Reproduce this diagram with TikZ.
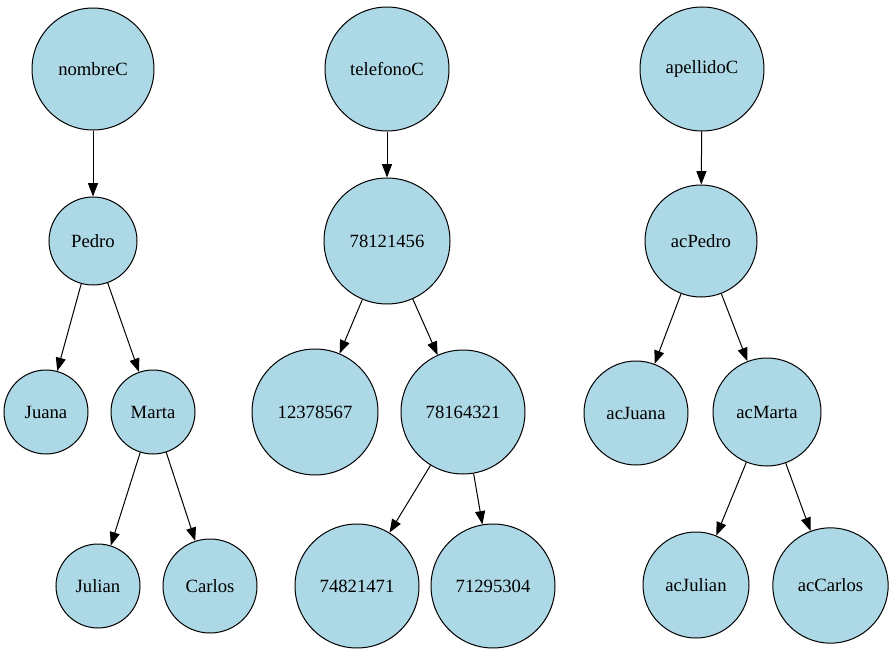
\documentclass[tikz,border=0pt]{standalone}
\usepackage{fontspec}
\setmainfont{Liberation Serif}
\usetikzlibrary{arrows.meta}
\begin{document}
\begin{tikzpicture}[x=0.75pt, y=-0.75pt, >={Triangle[length=10pt,width=7.5pt]}, line width=0.75pt]
      % Styles
      \tikzstyle{nodo} = [circle, draw=black, fill=lightblue, inner sep=0pt, font=\fontsize{14}{16}\selectfont]
      \definecolor{lightblue}{HTML}{ADD8E6}
      \useasboundingbox (0,0) rectangle (894,653);
      % Nodes: nombre
      \node[nodo, minimum size=91.5pt] (nombreC) at (93,69) {nombreC};
      \node[nodo, minimum size=66pt] (pedro) at (93,241) {Pedro};
      \node[nodo, minimum size=63pt] (juana) at (46,412) {Juana};
      \node[nodo, minimum size=63pt] (marta) at (153,412) {Marta};
      \node[nodo, minimum size=63pt] (julian) at (98,586) {Julian};
      \node[nodo, minimum size=70.5pt] (carlos) at (210,586) {Carlos};
      % Nodes: telefono
      \node[nodo, minimum size=93pt] (telefonoC) at (387,69) {telefonoC};
      \node[nodo, minimum size=94.5pt] (t78121456) at (387,241) {78121456};
      \node[nodo, minimum size=94.5pt] (t12378567) at (315,412) {12378567};
      \node[nodo, minimum size=93pt] (t78164321) at (463,412) {78164321};
      \node[nodo, minimum size=93pt] (t74821471) at (357,586) {74821471};
      \node[nodo, minimum size=93pt] (t71295304) at (493,586) {71295304};
      % Nodes: apellido
      \node[nodo, minimum size=93pt] (apellidoC) at (702,69) {apellidoC};
      \node[nodo, minimum size=84pt] (acpedro) at (701,241) {acPedro};
      \node[nodo, minimum size=78pt] (acjuana) at (636,413) {acJuana};
      \node[nodo, minimum size=81pt] (acmarta) at (767,412) {acMarta};
      \node[nodo, minimum size=79.5pt] (acjulian) at (696,585) {acJulian};
      \node[nodo, minimum size=86.5pt] (accarlos) at (830.5,585.5) {acCarlos};

      % Arrows
      \draw[->] (nombreC) -- (pedro);
      \draw[->] (pedro) -- (juana);
      \draw[->] (pedro) -- (marta);
      \draw[->] (marta) -- (julian);
      \draw[->] (marta) -- (carlos);
      \draw[->] (telefonoC) -- (t78121456);
      \draw[->] (t78121456) -- (t12378567);
      \draw[->] (t78121456) -- (t78164321);
      \draw[->] (t78164321) -- (t74821471);
      \draw[->] (t78164321) -- (t71295304);
      \draw[->] (apellidoC) -- (acpedro);
      \draw[->] (acpedro) -- (acjuana);
      \draw[->] (acpedro) -- (acmarta);
      \draw[->] (acmarta) -- (acjulian);
      \draw[->] (acmarta) -- (accarlos);
\end{tikzpicture}
\end{document}
